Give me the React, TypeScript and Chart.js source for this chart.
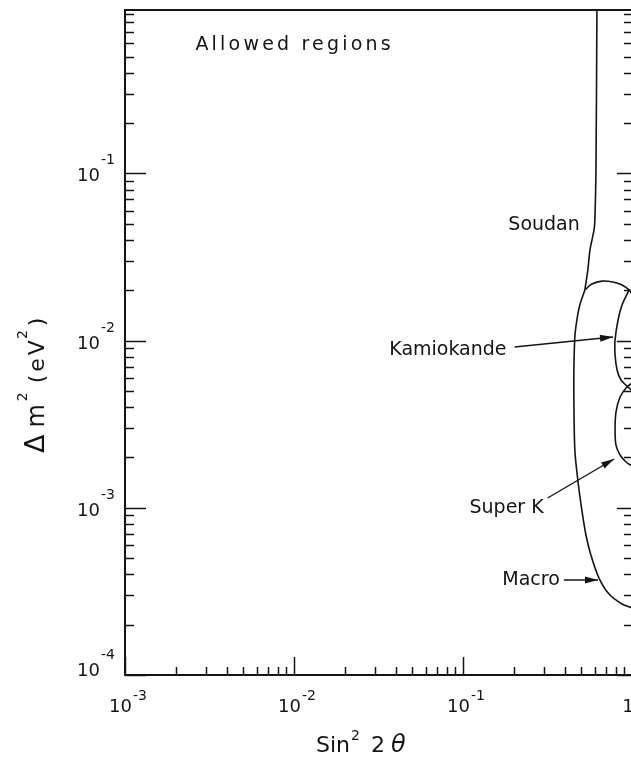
import React, { useEffect, useRef } from "react";
import { Chart, registerables } from "chart.js";

Chart.register(...registerables);

// ---- axis ranges and tick labels ----
const X_MIN = 0.001;
const X_MAX = 1;
const Y_MIN = 0.0001;
const Y_MAX = 0.95;

const xTickValues = [0.001, 0.01, 0.1, 1];
const xTickBase = ["10", "10", "10", "1"];
const xTickExp = ["-3", "-2", "-1", ""];

const yTickValues = [0.0001, 0.001, 0.01, 0.1];
const yTickBase = ["10", "10", "10", "10"];
const yTickExp = ["-4", "-3", "-2", "-1"];

// ---- curves (sin^2 2θ, Δm^2 eV^2) ----
const soudanX = [0.62, 0.612, 0.603, 0.596, 0.564, 0.548, 0.526];
const soudanY = [0.95, 0.1049, 0.0527, 0.0459, 0.0348, 0.0265, 0.0201];

const macroOuterX = [0.526, 0.491, 0.472, 0.459, 0.453, 0.453, 0.459, 0.478, 0.505, 0.534, 0.571, 0.638, 0.731, 0.873, 1.0];
const macroOuterY = [0.0201, 0.01633, 0.01329, 0.01051, 0.00667, 0.00441, 0.00222, 0.001466, 0.00097, 0.000688, 0.000522, 0.00038, 0.000305, 0.000266, 0.000252];

const macroTopX = [0.526, 0.579, 0.664, 0.772, 0.873, 0.961, 1.0];
const macroTopY = [0.0201, 0.0218, 0.0227, 0.0224, 0.0215, 0.0201, 0.019];

const kamiokandeX = [0.961, 0.873, 0.827, 0.794, 0.794, 0.816, 0.861, 0.961, 1.0];
const kamiokandeY = [0.0201, 0.01633, 0.01329, 0.01009, 0.0082, 0.00667, 0.00581, 0.00521, 0.005];

const superKX = [1.0, 0.922, 0.85, 0.804, 0.794, 0.804, 0.85, 0.922, 1.0];
const superKY = [0.00558, 0.00521, 0.0046, 0.00374, 0.00292, 0.00237, 0.00207, 0.00188, 0.00178];

// ---- labels and arrows ----
const labelNames = ["Soudan", "Kamiokande", "Super K", "Macro"];
const labelX = [0.491, 0.181, 0.3, 0.374];
const labelY = [0.0492, 0.00879, 0.000997, 0.00037];

const arrowStartX = [0.202, 0.317, 0.395];
const arrowStartY = [0.00916, 0.001145, 0.00037];
const arrowEndX = [0.772, 0.783, 0.629];
const arrowEndY = [0.01051, 0.001959, 0.00037];

const titleText = "Allowed regions";
const titleX = 0.00261;
const titleY = 0.587;

const FONT = "'DejaVu Sans', sans-serif";
const INK = "#141414";

function pts(xs: number[], ys: number[]) {
  return xs.map((x, i) => ({ x, y: ys[i] }));
}

const curveStyle = {
  showLine: true,
  borderColor: INK,
  borderWidth: 1.6,
  pointRadius: 0,
  tension: 0.3,
  fill: false,
};

const decorPlugin = {
  id: "decor",
  afterDraw(chart: any) {
    const { ctx, chartArea: a, scales } = chart;
    const xs = scales.x;
    const ys = scales.y;
    ctx.save();
    ctx.strokeStyle = INK;
    ctx.fillStyle = INK;

    // frame
    ctx.lineWidth = 2;
    ctx.strokeRect(a.left, a.top, a.right - a.left, a.bottom - a.top);

    const decadeTicks = (min: number, max: number) => {
      const out: { v: number; major: boolean }[] = [];
      for (let e = Math.floor(Math.log10(min)); e <= Math.ceil(Math.log10(max)); e++) {
        for (let s = 1; s <= 9; s++) {
          const v = s * Math.pow(10, e);
          if (v >= min * 0.999 && v <= max * 1.001) out.push({ v, major: s === 1 });
        }
      }
      return out;
    };

    ctx.lineWidth = 1.5;
    ctx.beginPath();
    for (const t of decadeTicks(X_MIN, X_MAX)) {
      const px = Math.round(xs.getPixelForValue(t.v)) + 0.5;
      const len = t.major ? 18 : 8;
      ctx.moveTo(px, a.bottom);
      ctx.lineTo(px, a.bottom - len);
    }
    for (const t of decadeTicks(Y_MIN, Y_MAX)) {
      const py = Math.round(ys.getPixelForValue(t.v)) + 0.5;
      const lenL = t.major ? 21 : 9;
      const lenR = t.major ? 15 : 8;
      ctx.moveTo(a.left, py);
      ctx.lineTo(a.left + lenL, py);
      ctx.moveTo(a.right, py);
      ctx.lineTo(a.right - lenR, py);
    }
    ctx.stroke();

    // x tick labels
    const baseFont = `18px ${FONT}`;
    const expFont = `14px ${FONT}`;
    ctx.textBaseline = "alphabetic";
    ctx.textAlign = "left";
    xTickValues.forEach((v, i) => {
      const px = xs.getPixelForValue(v);
      ctx.font = baseFont;
      const wb = ctx.measureText(xTickBase[i]).width;
      ctx.font = expFont;
      const we = xTickExp[i] ? ctx.measureText(xTickExp[i]).width + 1 : 0;
      const start = px - (wb + we) / 2 + (xTickExp[i] ? 3 : -4);
      ctx.font = baseFont;
      ctx.fillText(xTickBase[i], start, a.bottom + 37);
      if (xTickExp[i]) {
        ctx.font = expFont;
        ctx.fillText(xTickExp[i], start + wb + 1, a.bottom + 25);
      }
    });

    // y tick labels
    yTickValues.forEach((v, i) => {
      let py = ys.getPixelForValue(v);
      if (v === Y_MIN) py -= 7;
      ctx.font = baseFont;
      ctx.textAlign = "right";
      ctx.fillText(yTickBase[i], 100, py + 8);
      ctx.font = expFont;
      ctx.textAlign = "left";
      ctx.fillText(yTickExp[i], 101, py - 9);
    });

    // x axis title: Sin² 2θ
    ctx.textAlign = "left";
    let cx = 316;
    const by = 752;
    ctx.font = `22px ${FONT}`;
    ctx.fillText("Sin", cx, by);
    cx += ctx.measureText("Sin").width + 1;
    ctx.font = `14px ${FONT}`;
    ctx.fillText("2", cx, by - 12);
    cx += ctx.measureText("2").width + 11;
    ctx.font = `22px ${FONT}`;
    ctx.fillText("2", cx, by);
    cx += ctx.measureText("2").width + 6;
    ctx.font = `italic 24px ${FONT}`;
    ctx.fillText("θ", cx, by);

    // y axis title: Δm² (eV²), rotated
    ctx.save();
    ctx.translate(44, 453);
    ctx.rotate(-Math.PI / 2);
    const pieces: [string, string, number, number][] = [
      ["Δ", `27px ${FONT}`, 0, 7],
      ["m", `24px ${FONT}`, 0, 3],
      ["2", `14px ${FONT}`, 17, 9],
      ["(", `22px ${FONT}`, 0, 3],
      ["e", `22px ${FONT}`, 0, 3],
      ["V", `22px ${FONT}`, 0, 1],
      ["2", `14px ${FONT}`, 17, 4],
      [")", `22px ${FONT}`, 0, 0],
    ];
    let along = 0;
    for (const [t, f, raise, gap] of pieces) {
      ctx.font = f;
      ctx.fillText(t, along, -raise);
      along += ctx.measureText(t).width + gap;
    }
    ctx.restore();

    // region labels
    ctx.font = `19px ${FONT}`;
    ctx.textBaseline = "middle";
    ctx.textAlign = "right";
    labelNames.forEach((name, i) => {
      ctx.fillText(name, xs.getPixelForValue(labelX[i]), ys.getPixelForValue(labelY[i]));
    });

    // title in plot
    ctx.textAlign = "left";
    (ctx as any).letterSpacing = "3.2px";
    ctx.fillText(titleText, xs.getPixelForValue(titleX), ys.getPixelForValue(titleY));
    (ctx as any).letterSpacing = "0px";

    // arrowheads
    arrowEndX.forEach((ex, i) => {
      const tx = xs.getPixelForValue(ex);
      const ty = ys.getPixelForValue(arrowEndY[i]);
      const sx = xs.getPixelForValue(arrowStartX[i]);
      const sy = ys.getPixelForValue(arrowStartY[i]);
      const ang = Math.atan2(ty - sy, tx - sx);
      const L = 13;
      const W = 3.5;
      const bx = tx - L * Math.cos(ang);
      const byy = ty - L * Math.sin(ang);
      ctx.beginPath();
      ctx.moveTo(tx, ty);
      ctx.lineTo(bx - W * Math.sin(ang), byy + W * Math.cos(ang));
      ctx.lineTo(bx + W * Math.sin(ang), byy - W * Math.cos(ang));
      ctx.closePath();
      ctx.fill();
    });

    ctx.restore();
  },
};

export default function App() {
  const ref = useRef<HTMLCanvasElement | null>(null);

  useEffect(() => {
    if (!ref.current) return;
    const arrowSets = arrowStartX.map((sx, i) => ({
      ...curveStyle,
      borderWidth: 1.4,
      tension: 0,
      data: pts([sx, arrowEndX[i]], [arrowStartY[i], arrowEndY[i]]),
    }));
    const chart = new Chart(ref.current, {
      type: "scatter",
      data: {
        datasets: [
          { ...curveStyle, label: "Soudan", data: pts(soudanX, soudanY) },
          { ...curveStyle, label: "Macro", data: pts(macroOuterX, macroOuterY) },
          { ...curveStyle, label: "Macro top", data: pts(macroTopX, macroTopY) },
          { ...curveStyle, label: "Kamiokande", data: pts(kamiokandeX, kamiokandeY) },
          { ...curveStyle, label: "Super K", data: pts(superKX, superKY) },
          ...arrowSets,
        ] as any,
      },
      options: {
        responsive: false,
        animation: false,
        devicePixelRatio: 1,
        layout: { padding: { left: 125, right: 2, top: 10, bottom: 87 } },
        plugins: {
          legend: { display: false },
          tooltip: { enabled: false },
        },
        scales: {
          x: { type: "logarithmic", min: X_MIN, max: X_MAX, display: false },
          y: { type: "logarithmic", min: Y_MIN, max: Y_MAX, display: false },
        },
      } as any,
      plugins: [decorPlugin],
    });
    return () => chart.destroy();
  }, []);

  return (
    <div style={{ position: "absolute", left: 0, top: 0, width: 631, height: 762, background: "#fff", overflow: "hidden" }}>
      <canvas ref={ref} width={634} height={762} style={{ width: 634, height: 762, display: "block" }} />
    </div>
  );
}
